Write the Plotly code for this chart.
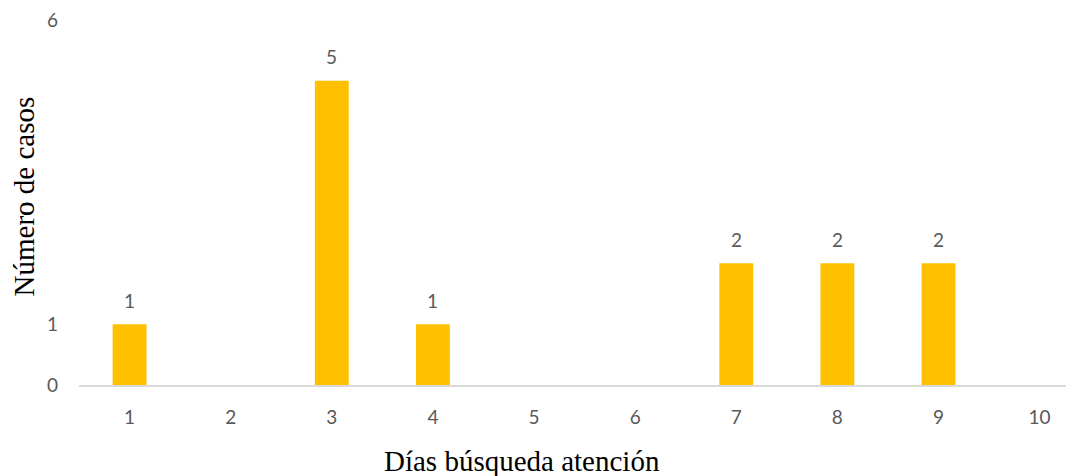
import plotly.graph_objects as go

dias = ["1", "2", "3", "4", "5", "6", "7", "8", "9", "10"]
casos = [1, 0, 5, 1, 0, 0, 2, 2, 2, 0]
y_ticks = [0, 1, 6]

BAR = "#FFC000"
TXT = "#595959"
TICKFONT = dict(family="Lato, Open Sans, sans-serif", size=19, color=TXT)
TITLEFONT = dict(family="Liberation Serif, Times New Roman, serif", size=29, color="#000000")

fig = go.Figure()
fig.add_trace(go.Bar(x=dias, y=casos, marker=dict(color=BAR, line=dict(width=0)),
                     width=0.335, hoverinfo="x+y"))

for i, v in enumerate(casos):
    if v > 0:
        fig.add_annotation(x=i, y=v, text=str(v), showarrow=False, yanchor="middle",
                           yshift=24, font=TICKFONT)

fig.add_annotation(text="Días búsqueda atención", xref="paper", yref="paper",
                   x=0.4455, y=-0.208, xanchor="center", yanchor="middle", showarrow=False,
                   font=TITLEFONT)
fig.add_annotation(text="Número de casos", xref="paper", yref="paper",
                   x=-0.0558, y=0.518, xanchor="center", yanchor="middle", textangle=-90, showarrow=False,
                   font=TITLEFONT)

fig.update_layout(
    width=1066, height=468,
    margin=dict(l=70.5, r=0, t=12, b=90.5),
    plot_bgcolor="white", paper_bgcolor="white",
    showlegend=False,
    xaxis=dict(type="category", range=[-0.5, 9.34], showgrid=False, zeroline=False,
               showline=True, linecolor="#D9D9D9", linewidth=2, ticks="",
               tickfont=TICKFONT, ticklabelstandoff=14),
    yaxis=dict(range=[0, 6], tickvals=y_ticks, showgrid=False, zeroline=False,
               showline=False, ticks="", tickfont=TICKFONT, ticklabelstandoff=20,
               ticklabeloverflow="allow"),
)

fig.write_html("out.html")
